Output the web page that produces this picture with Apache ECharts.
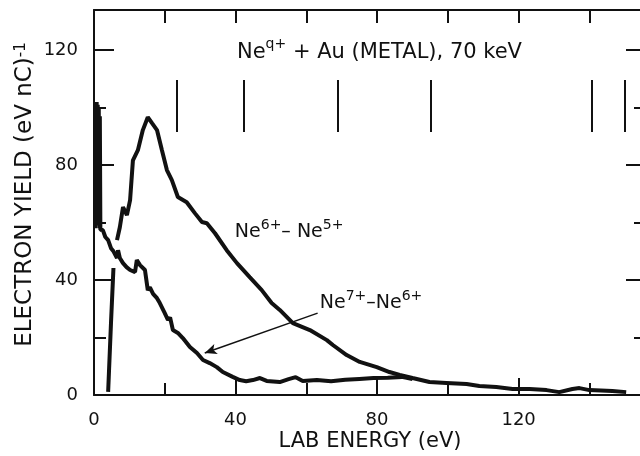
<!DOCTYPE html>
<html>
<head>
<meta charset="utf-8">
<script src="https://cdn.jsdelivr.net/npm/echarts@6/dist/echarts.min.js"></script>
<style>
  html, body { margin: 0; padding: 0; background: #fff; }
  #chart { width: 640px; height: 456px; }
</style>
</head>
<body>
<div id="chart"></div>
<script>
// axis ranges and ticks
const xMax = 156;
const yMax = 134;
const xMajor = [0, 40, 80, 120];
const xMinor = [20, 60, 100, 140];
const xTop = [20, 40, 60, 80, 100, 120, 140];
const yMajor = [0, 40, 80, 120];
const yMinor = [20, 60, 100];

// Ne6+ - Ne5+ (upper curve, tail shared with the other one)
const ne6ne5 = [
  [4.0, 1.1], [4.8, 25], [5.5, 44.2], [6.0, null], [6.5, 53.9], [7.3, 58.4], [8.2, 65.4],
  [9.3, 62.6], [10.2, 67.8], [11.0, 81.7], [12.4, 85.2], [13.8, 92.2], [15.2, 96.7],
  [16.4, 94.6], [17.8, 92.2], [19.2, 85.2], [20.6, 78.3], [22.0, 74.8], [23.7, 68.9],
  [26.2, 67.1], [28.5, 63.3], [30.5, 60.2], [31.9, 59.8], [34.2, 56.3], [37.5, 50.4],
  [40.4, 45.9], [44.0, 41.0], [47.4, 36.5], [50.2, 32.0], [52.5, 29.6], [56.2, 25.0],
  [61.0, 22.6], [65.8, 19.1], [67.5, 17.4], [71.4, 13.9], [75.1, 11.5], [79.9, 9.7],
  [83.5, 8.0], [86.4, 7.0], [90.0, 5.9], [94.8, 4.5], [99.6, 4.2], [105.3, 3.8],
  [108.9, 3.1], [113.7, 2.8], [118.3, 2.1], [123.1, 2.1], [127.9, 1.7], [131.5, 1.0],
  [135.2, 2.1], [137.2, 2.4], [140.0, 1.7], [146.5, 1.4], [150.4, 1.0]
];

// Ne7+ - Ne6+ (lower curve, starts with the spike near 0 eV)
const ne7ne6 = [
  [0.3, 58], [0.45, 102], [0.6, 60], [0.75, 102], [0.9, 59], [1.05, 101], [1.2, 60],
  [1.35, 100], [1.5, 58], [1.65, 97], [1.8, 57.5],
  [2.5, 57.4], [3.2, 55.0], [4.0, 53.9], [4.8, 51.1], [5.5, 50.0], [6.5, 47.7],
  [6.8, 50.4], [7.3, 47.7], [8.2, 45.9], [9.2, 44.5], [10.2, 43.5], [11.6, 42.8],
  [12.1, 47.0], [13.0, 45.2], [14.4, 43.5], [15.2, 36.5], [15.8, 37.5], [16.7, 35.2],
  [17.8, 33.7], [18.6, 32.0], [20.0, 28.5], [20.9, 26.1], [21.5, 27.0], [22.3, 22.6],
  [23.7, 21.6], [25.1, 19.8], [27.1, 16.7], [29.1, 14.6], [30.8, 12.2], [32.7, 11.1],
  [34.7, 9.7], [36.4, 8.0], [39.2, 6.3], [41.2, 5.2], [43.0, 4.8], [44.9, 5.2],
  [46.9, 5.9], [48.8, 4.9], [52.5, 4.5], [55.0, 5.5], [57.0, 6.2], [59.0, 4.9],
  [63.0, 5.2], [67.0, 4.8], [71.0, 5.3], [75.0, 5.6], [79.0, 5.9], [83.0, 6.0],
  [87.0, 6.3], [90.0, 5.6]
];

// marker lines at the top (energies) and their vertical span
const lineEnergies = [23.4, 42.3, 68.9, 95.1, 140.6, 149.9];
const lineSpan = [91.5, 109.6];

// arrow from label to lower curve
const arrowFrom = [63.2, 28.5];
const arrowTo = [31.3, 14.6];

const FONT = 'DejaVu Sans';
const black = '#111';

const chart = echarts.init(document.getElementById('chart'), null, {renderer: 'canvas'});

function valueAxis(extra) {
  return Object.assign({
    type: 'value',
    splitLine: {show: false},
    axisLine: {show: false, onZero: false},
    axisLabel: {show: false},
    axisTick: {show: false},
  }, extra);
}
const lineSt = {color: black, width: 2};
const frameLine = {show: true, onZero: false, lineStyle: lineSt};

const option = {
  animation: false,
  backgroundColor: '#fff',
  grid: {left: 94, right: -6, top: 10, bottom: 61, outerBoundsMode: 'none'},
  xAxis: [
    valueAxis({
      position: 'bottom', min: 0, max: xMax,
      axisLine: frameLine,
      axisTick: {show: true, inside: true, length: 17, customValues: xMajor, lineStyle: lineSt},
      axisLabel: {show: true, customValues: xMajor, fontSize: 18, fontFamily: FONT, color: black, margin: 16},
      name: 'LAB ENERGY (eV)', nameLocation: 'middle', nameGap: 36, nameMoveOverlap: false,
      nameTextStyle: {fontSize: 21, fontFamily: FONT, color: black}
    }),
    valueAxis({
      position: 'bottom', min: 0, max: xMax,
      axisTick: {show: true, inside: true, length: 12, customValues: xMinor, lineStyle: lineSt}
    }),
    valueAxis({
      position: 'top', min: 0, max: xMax,
      axisLine: frameLine,
      axisTick: {show: true, inside: true, length: 13, customValues: xTop, lineStyle: lineSt}
    })
  ],
  yAxis: [
    valueAxis({
      position: 'left', min: 0, max: yMax,
      axisLine: frameLine,
      axisTick: {show: true, inside: true, length: 20, customValues: yMajor, lineStyle: lineSt},
      axisLabel: {show: true, customValues: yMajor, fontSize: 18, fontFamily: FONT, color: black, margin: 16},
      name: 'ELECTRON YIELD (eV nC){s|-1}', nameLocation: 'middle', nameGap: 57, nameRotate: 90,
      nameMoveOverlap: false,
      nameTextStyle: {
        fontSize: 23, fontFamily: FONT, color: black, padding: [0, 0, 0, 16],
        rich: {s: {fontSize: 15, fontFamily: FONT, color: black, verticalAlign: 'top', lineHeight: 15}}
      }
    }),
    valueAxis({
      position: 'left', min: 0, max: yMax,
      axisTick: {show: true, inside: true, length: 12, customValues: yMinor, lineStyle: lineSt}
    }),
    valueAxis({
      position: 'right', min: 0, max: yMax,
      axisLine: frameLine,
      axisTick: {show: true, inside: true, length: 20, customValues: [40, 80, 120], lineStyle: lineSt}
    }),
    valueAxis({
      position: 'right', min: 0, max: yMax,
      axisTick: {show: true, inside: true, length: 12, customValues: yMinor, lineStyle: lineSt}
    })
  ],
  series: [
    {
      name: 'Ne6+ - Ne5+', type: 'line', data: ne6ne5, showSymbol: false, symbol: 'none',
      lineStyle: {color: black, width: 4}, connectNulls: false,
      markLine: {
        silent: true, symbol: ['none', 'none'], label: {show: false},
        lineStyle: {color: black, width: 2, type: 'solid'},
        data: lineEnergies.map(e => [{coord: [e, lineSpan[0]]}, {coord: [e, lineSpan[1]]}])
      }
    },
    {
      name: 'Ne7+ - Ne6+', type: 'line', data: ne7ne6, showSymbol: false, symbol: 'none',
      lineStyle: {color: black, width: 4},
      markLine: {
        silent: true, symbol: ['none', 'arrow'], symbolSize: [8, 12], label: {show: false},
        lineStyle: {color: black, width: 1.5, type: 'solid'},
        data: [[{coord: arrowFrom}, {coord: arrowTo}]]
      }
    }
  ]
};
option && chart.setOption(option);

// text annotations placed through the chart's own scales
function txt(pos, text, size, supSize) {
  const p = chart.convertToPixel({gridIndex: 0}, pos);
  return {
    type: 'text', x: p[0], y: p[1],
    style: {
      text: text, fontSize: size, fontFamily: FONT, fill: black,
      align: 'left', verticalAlign: 'middle', lineHeight: size + 8,
      rich: {s: {fontSize: supSize, fontFamily: FONT, fill: black, verticalAlign: 'top', lineHeight: supSize}}
    }
  };
}
chart.setOption({
  graphic: [
    txt([40.4, 119.3], 'Ne{s|q+} + Au (METAL), 70 keV', 21, 14),
    txt([39.8, 56.7], 'Ne{s|6+}– Ne{s|5+}', 19, 14),
    txt([63.8, 32.0], 'Ne{s|7+}–Ne{s|6+}', 19, 14)
  ]
});
</script>
</body>
</html>
